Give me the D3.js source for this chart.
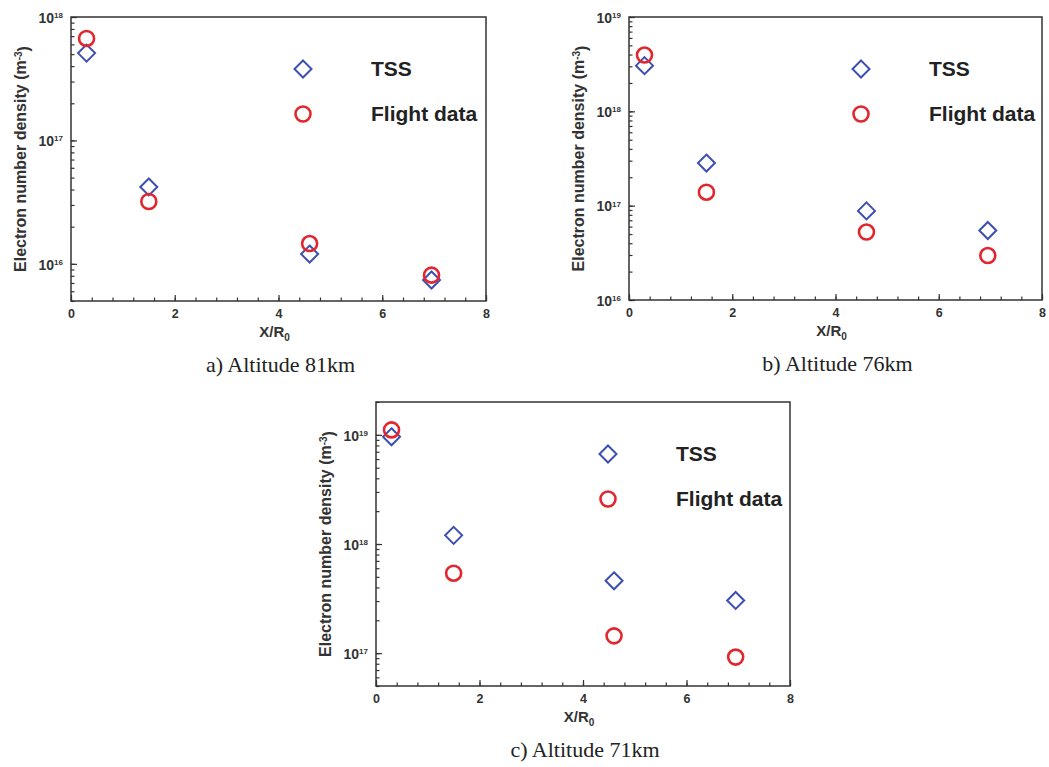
<!DOCTYPE html>
<html>
<head>
<meta charset="utf-8">
<script src="https://cdn.jsdelivr.net/npm/d3@7"></script>
<style>
  body { margin: 0; background: #fff; }
  svg { display: block; }
  .domain { display: none; }
  .tick line { stroke: #333; stroke-width: 1.2; }
  .tick text { font-family: "Liberation Sans", Arial, sans-serif; font-weight: bold; fill: #333; }
</style>
</head>
<body>
<div id="vis"></div>
<script>

// x positions of the four stations (X/R0)
const X_VALUES = [0.3, 1.5, 4.6, 6.95];

// electron number density, m^-3, per altitude
const TSS_81 = [5.1e17, 4.2e16, 1.2e16, 7.4e15];
const FLIGHT_81 = [6.7e17, 3.2e16, 1.46e16, 8.1e15];

const TSS_76 = [3.05e18, 2.83e17, 8.8e16, 5.45e16];
const FLIGHT_76 = [3.95e18, 1.39e17, 5.25e16, 2.96e16];

const TSS_71 = [9.6e18, 1.2e18, 4.6e17, 3.04e17];
const FLIGHT_71 = [1.11e19, 5.4e17, 1.44e17, 9.2e16];

const X_TICKS = [0, 2, 4, 6, 8];
const CAPTIONS = ["a) Altitude 81km", "b) Altitude 76km", "c) Altitude 71km"];
const LEGEND_LABELS = ["TSS", "Flight data"];

// frame constants
const FRAME_WIDTH = 1049;
const FRAME_HEIGHT = 767;
const BLUE = "#3d4fb0";
const RED = "#e1262d";

const FRAME = d3.select("#vis")
                .append("svg")
                  .attr("width", FRAME_WIDTH)
                  .attr("height", FRAME_HEIGHT);

// one panel per altitude
const PANELS = [
  {left: 71, top: 17, width: 415, height: 284, yDomain: [5e15, 1e18], tss: TSS_81, flight: FLIGHT_81, caption: CAPTIONS[0]},
  {left: 629, top: 17, width: 413, height: 283, yDomain: [1e16, 1e19], tss: TSS_76, flight: FLIGHT_76, caption: CAPTIONS[1]},
  {left: 376, top: 402, width: 414, height: 284, yDomain: [5e16, 2e19], tss: TSS_71, flight: FLIGHT_71, caption: CAPTIONS[2]}
];

function diamond(r) {
  return "M0," + (-r) + "L" + r + ",0L0," + r + "L" + (-r) + ",0Z";
}

function drawPanel(p) {
  const G = FRAME.append("g")
                 .attr("transform", "translate(" + p.left + "," + p.top + ")");

  const X_SCALE = d3.scaleLinear()
                    .domain([0, 8])
                    .range([0, p.width]);
  const Y_SCALE = d3.scaleLog()
                    .domain(p.yDomain)
                    .range([p.height, 0]);

  // x axis: minor ticks then major ticks with labels
  G.append("g")
    .attr("transform", "translate(0," + p.height + ")")
    .call(d3.axisBottom(X_SCALE).tickValues(d3.range(0, 8.01, 0.4)).tickSize(-3.5).tickFormat(""));
  G.append("g")
    .attr("transform", "translate(0," + p.height + ")")
    .call(d3.axisBottom(X_SCALE).tickValues(X_TICKS).tickSize(-6).tickPadding(8).tickFormat(d3.format("d")))
    .attr("font-size", "12.5px");

  // y axis: minor log ticks then decades
  const ALL_Y = Y_SCALE.ticks();
  const MAJOR_Y = ALL_Y.filter((d) => { return Math.abs(Math.log10(d) - Math.round(Math.log10(d))) < 1e-6; });
  G.append("g")
    .call(d3.axisLeft(Y_SCALE).tickValues(ALL_Y).tickSize(-3.5).tickFormat(""));
  const YAX = G.append("g")
    .call(d3.axisLeft(Y_SCALE).tickValues(MAJOR_Y).tickSize(-6).tickFormat(() => "10"))
    .attr("font-size", "14px");
  YAX.selectAll(".tick text")
    .attr("x", -8)
    .attr("dy", "0.38em")
    .append("tspan")
      .attr("dy", "-0.6em")
      .attr("font-size", "8px")
      .text((d) => { return Math.round(Math.log10(d)); });

  // frame box
  G.append("rect")
    .attr("width", p.width)
    .attr("height", p.height)
    .attr("fill", "none")
    .attr("stroke", "#333")
    .attr("stroke-width", 1.5);

  // points
  G.selectAll(".tss")
    .data(p.tss)
    .enter()
    .append("path")
      .attr("d", diamond(8.5))
      .attr("transform", (d, i) => { return "translate(" + X_SCALE(X_VALUES[i]) + "," + Y_SCALE(d) + ")"; })
      .attr("fill", "none")
      .attr("stroke", BLUE)
      .attr("stroke-width", 2);

  G.selectAll(".flight")
    .data(p.flight)
    .enter()
    .append("circle")
      .attr("cx", (d, i) => { return X_SCALE(X_VALUES[i]); })
      .attr("cy", (d) => { return Y_SCALE(d); })
      .attr("r", 7.5)
      .attr("fill", "none")
      .attr("stroke", RED)
      .attr("stroke-width", 2.6);

  // legend
  G.append("path")
    .attr("d", diamond(8.5))
    .attr("transform", "translate(232,52)")
    .attr("fill", "none")
    .attr("stroke", BLUE)
    .attr("stroke-width", 2);
  G.append("circle")
    .attr("cx", 232)
    .attr("cy", 97)
    .attr("r", 7.5)
    .attr("fill", "none")
    .attr("stroke", RED)
    .attr("stroke-width", 2.6);
  G.selectAll(".legend-text")
    .data(LEGEND_LABELS)
    .enter()
    .append("text")
      .attr("x", 300)
      .attr("y", (d, i) => { return 59 + i * 45; })
      .attr("font-family", "Liberation Sans, Arial, sans-serif")
      .attr("font-weight", "bold")
      .attr("font-size", "21px")
      .attr("fill", "#222")
      .text((d) => { return d; });

  // x axis title
  const XT = G.append("text")
    .attr("x", p.width / 2 - 4)
    .attr("y", p.height + 36)
    .attr("text-anchor", "middle")
    .attr("font-family", "Liberation Sans, Arial, sans-serif")
    .attr("font-weight", "bold")
    .attr("font-size", "15px")
    .attr("fill", "#333")
    .text("X/R");
  XT.append("tspan")
    .attr("dy", "0.4em")
    .attr("font-size", "10px")
    .text("0");

  // y axis title
  const YT = G.append("text")
    .attr("transform", "translate(-45," + (p.height / 2) + ") rotate(-90)")
    .attr("text-anchor", "middle")
    .attr("font-family", "Liberation Sans, Arial, sans-serif")
    .attr("font-weight", "bold")
    .attr("font-size", "16px")
    .attr("fill", "#333")
    .text("Electron number density (m");
  YT.append("tspan")
    .attr("dy", "-0.45em")
    .attr("font-size", "10px")
    .text("-3");
  YT.append("tspan")
    .attr("dy", "0.45em")
    .text(")");

  // caption
  G.append("text")
    .attr("x", p.width / 2 + 2)
    .attr("y", p.height + 71)
    .attr("text-anchor", "middle")
    .attr("font-family", "Liberation Serif, Times New Roman, serif")
    .attr("font-size", "22px")
    .attr("fill", "#222")
    .text(p.caption);
}

PANELS.forEach(drawPanel);

</script>
</body>
</html>
